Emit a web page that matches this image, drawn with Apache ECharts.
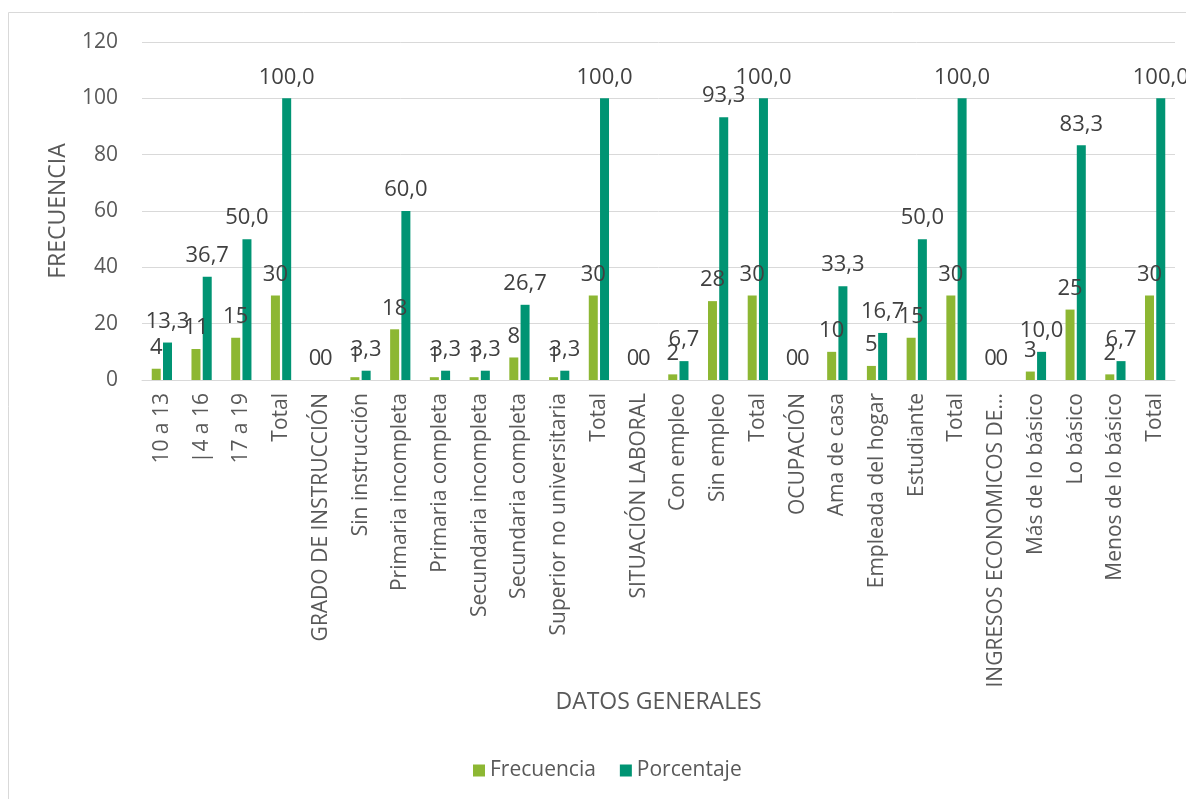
<!DOCTYPE html>
<html><head><meta charset="utf-8">
<script src="https://cdn.jsdelivr.net/npm/echarts@6/dist/echarts.min.js"></script>
<style>html,body{margin:0;padding:0;background:#fff}#c{width:1186px;height:799px}</style>
</head><body><div id="c"></div>
<script>
const categories = ['10 a 13','|4 a 16','17 a 19','Total','GRADO DE INSTRUCCIÓN','Sin instrucción','Primaria incompleta','Primaria completa','Secundaria incompleta','Secundaria completa','Superior no universitaria','Total','SITUACIÓN LABORAL','Con empleo','Sin empleo','Total','OCUPACIÓN','Ama de casa','Empleada del hogar','Estudiante','Total','INGRESOS ECONOMICOS DEL HOGAR','Más de lo básico','Lo básico','Menos de lo básico','Total'];
const frecuencia = [4,11,15,30,0,1,18,1,1,8,1,30,0,2,28,30,0,10,5,15,30,0,3,25,2,30];
const porcentaje = [13.3,36.7,50.0,100.0,0,3.3,60.0,3.3,3.3,26.7,3.3,100.0,0,6.7,93.3,100.0,0,33.3,16.7,50.0,100.0,0,10.0,83.3,6.7,100.0];
const yTicks = [0,20,40,60,80,100,120];

const FONT = '"Open Sans", sans-serif';
const TXT = '#595959';
const chart = echarts.init(document.getElementById('c'));
chart.setOption({
  animation:false,
  textStyle:{fontFamily:FONT},
  graphic:[{type:'rect',shape:{x:8.5,y:12.5,width:1300,height:900},style:{fill:'none',stroke:'#d9d9d9',lineWidth:1},silent:true,z:-1}],
  grid:{left:142,right:11,top:42,bottom:419,containLabel:false},
  legend:{top:755,left:468,itemWidth:12,itemHeight:12,itemGap:24,icon:'rect',
    textStyle:{color:TXT,fontSize:21,fontFamily:FONT},data:['Frecuencia','Porcentaje']},
  xAxis:{type:'category',data:categories,
    name:'DATOS GENERALES',nameLocation:'middle',nameGap:306,
    nameTextStyle:{color:TXT,fontSize:23,fontFamily:FONT},
    axisLine:{lineStyle:{color:'#d9d9d9',width:1}},axisTick:{show:false},
    axisLabel:{rotate:90,interval:0,color:TXT,fontSize:21,fontFamily:FONT,margin:13,
      formatter:v=>v.length>26?v.slice(0,22)+'...':v}},
  yAxis:{type:'value',min:yTicks[0],max:yTicks[yTicks.length-1],interval:yTicks[1]-yTicks[0],
    name:'FRECUENCIA',nameLocation:'middle',nameGap:72,
    nameTextStyle:{color:TXT,fontSize:23,fontFamily:FONT},
    axisLine:{show:false},axisTick:{show:false},
    axisLabel:{color:TXT,fontSize:21,fontFamily:FONT,margin:24},
    splitLine:{lineStyle:{color:'#d9d9d9',width:1}}},
  series:[
    {name:'Frecuencia',type:'bar',data:frecuencia,barWidth:9,barGap:'25%',
     itemStyle:{color:'#8db733'},
     label:{show:true,position:'top',distance:10,color:'#404040',fontSize:22,fontFamily:FONT,
       formatter:p=>String(p.value)}},
    {name:'Porcentaje',type:'bar',data:porcentaje,barWidth:9,
     itemStyle:{color:'#009473'},
     label:{show:true,position:'top',distance:10,color:'#404040',fontSize:22,fontFamily:FONT,
       formatter:p=>p.value===0?'0':p.value.toFixed(1).replace('.',',')}}
  ]
});
</script></body></html>
